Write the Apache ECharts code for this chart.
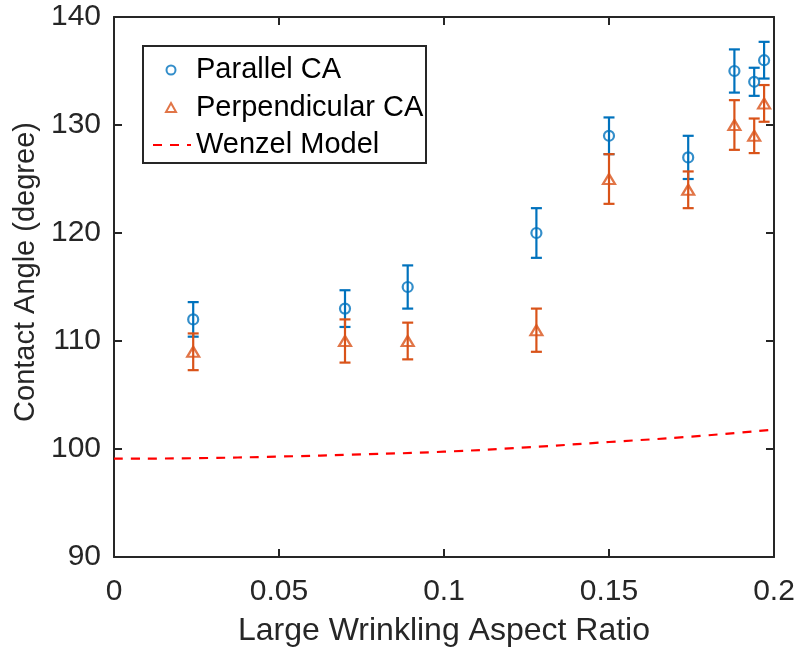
<!DOCTYPE html>
<html>
<head>
<meta charset="utf-8">
<script src="https://cdn.jsdelivr.net/npm/echarts@6/dist/echarts.min.js"></script>
<style>
  html, body { margin: 0; padding: 0; background: #fff; }
  #chart { width: 799px; height: 654px; }
</style>
</head>
<body>
<div id="chart"></div>
<script>
// values
const aspectRatio = [0.024, 0.070, 0.089, 0.128, 0.150, 0.174, 0.188, 0.194, 0.197];
const parallelCA = [112.0, 113.0, 115.0, 120.0, 129.0, 127.0, 135.0, 134.0, 136.0];
const parallelErr = [1.6, 1.7, 2.0, 2.3, 1.7, 2.0, 2.0, 1.3, 1.7];
const perpCA = [109.0, 110.0, 110.0, 111.0, 125.0, 124.0, 130.0, 129.0, 132.0];
const perpErr = [1.7, 2.0, 1.7, 2.0, 2.3, 1.7, 2.3, 1.6, 1.7];
const wenzelX = [0, 0.025, 0.05, 0.075, 0.1, 0.125, 0.15, 0.175, 0.2];
const wenzelY = [99.1, 99.15, 99.3, 99.5, 99.75, 100.15, 100.65, 101.15, 101.8];
const xTicks = ['0', '0.05', '0.1', '0.15', '0.2'];
const yTicks = ['90', '100', '110', '120', '130', '140'];

const BLUE = '#0072BD', ORANGE = '#D95319', AXIS = '#262626';
const FONT = 'Liberation Sans, Arial, sans-serif';

const chart = echarts.init(document.getElementById('chart'));

const points = (ys) => aspectRatio.map((x, i) => [x, ys[i]]);
const bars = (ys, err) => aspectRatio.map((x, i) => [x, ys[i] - err[i], ys[i] + err[i]]);

const errorBars = (color) => (params, api) => {
  const x = api.value(0);
  const lo = api.coord([x, api.value(1)]);
  const hi = api.coord([x, api.value(2)]);
  const cap = 5.5;
  const style = { stroke: color, lineWidth: 2.2 };
  return {
    type: 'group',
    children: [
      { type: 'line', shape: { x1: lo[0], y1: lo[1], x2: hi[0], y2: hi[1] }, style },
      { type: 'line', shape: { x1: lo[0] - cap, y1: lo[1], x2: lo[0] + cap, y2: lo[1] }, style },
      { type: 'line', shape: { x1: hi[0] - cap, y1: hi[1], x2: hi[0] + cap, y2: hi[1] }, style }
    ]
  };
};

const baseX = {
  type: 'value', min: 0, max: 0.2, interval: 0.05,
  axisLine: { show: true, onZero: false, lineStyle: { color: AXIS, width: 2 } },
  axisTick: { inside: true, length: 8, lineStyle: { color: AXIS, width: 2 } },
  splitLine: { show: false }
};
const baseY = {
  type: 'value', min: 90, max: 140, interval: 10,
  axisLine: { show: true, onZero: false, lineStyle: { color: AXIS, width: 2 } },
  axisTick: { inside: true, length: 8, lineStyle: { color: AXIS, width: 2 } },
  splitLine: { show: false }
};

const legendText = { color: '#000', fontSize: 29, lineHeight: 30, fontFamily: FONT };

chart.setOption({
  animation: false,
  backgroundColor: '#fff',
  grid: { left: 114, right: 25, top: 17, bottom: 97 },
  xAxis: [
    Object.assign({}, baseX, {
      position: 'bottom',
      name: 'Large Wrinkling Aspect Ratio',
      nameLocation: 'middle', nameGap: 58,
      nameTextStyle: { color: AXIS, fontSize: 32, fontFamily: FONT },
      axisLabel: {
        color: AXIS, fontSize: 30, fontFamily: FONT, margin: 20,
        formatter: (v) => xTicks[Math.round(v / 0.05)]
      }
    }),
    Object.assign({}, baseX, { position: 'top', axisLabel: { show: false } })
  ],
  yAxis: [
    Object.assign({}, baseY, {
      position: 'left',
      name: 'Contact Angle (degree)',
      nameLocation: 'middle', nameGap: 72,
      nameTextStyle: { color: AXIS, fontSize: 29, fontFamily: FONT, padding: [0, 0, 0, 30] },
      axisLabel: {
        color: AXIS, fontSize: 30, fontFamily: FONT, margin: 13,
        formatter: (v) => yTicks[Math.round((v - 90) / 10)]
      }
    }),
    Object.assign({}, baseY, { position: 'right', axisLabel: { show: false } })
  ],
  graphic: [{
    type: 'rect', z: 3,
    shape: { x: 143, y: 46, width: 283, height: 117 },
    style: { fill: '#fff', stroke: AXIS, lineWidth: 2 }
  }],
  legend: [
    {
      z: 5, orient: 'vertical', left: 165, top: 55, padding: 0,
      itemWidth: 10, itemHeight: 9, itemGap: 7.5,
      textStyle: Object.assign({ padding: [0, 0, 0, 15] }, legendText),
      data: ['Parallel CA', 'Perpendicular CA']
    },
    {
      z: 5, orient: 'vertical', left: 152, top: 130, padding: 0,
      itemWidth: 38, itemHeight: 9,
      itemStyle: { opacity: 0 },
      textStyle: legendText,
      data: ['Wenzel Model']
    }
  ],
  series: [
    {
      name: 'Wenzel Model', type: 'line', smooth: true, symbol: 'none',
      data: wenzelX.map((x, i) => [x, wenzelY[i]]),
      lineStyle: { color: '#FF0000', width: 2.2, type: [9, 8] },
      itemStyle: { color: '#FF0000' }
    },
    {
      name: 'parallel error', type: 'custom',
      renderItem: errorBars(BLUE), encode: { x: 0, y: [1, 2] },
      data: bars(parallelCA, parallelErr)
    },
    {
      name: 'Parallel CA', type: 'scatter', symbol: 'circle', symbolSize: 10,
      data: points(parallelCA),
      itemStyle: { color: 'rgba(0,0,0,0)', borderColor: BLUE, borderWidth: 2.2 }
    },
    {
      name: 'perpendicular error', type: 'custom',
      renderItem: errorBars(ORANGE), encode: { x: 0, y: [1, 2] },
      data: bars(perpCA, perpErr)
    },
    {
      name: 'Perpendicular CA', type: 'scatter', symbol: 'triangle', symbolSize: [12, 10],
      data: points(perpCA),
      itemStyle: { color: 'rgba(0,0,0,0)', borderColor: ORANGE, borderWidth: 2.2 }
    }
  ]
});
</script>
</body>
</html>
